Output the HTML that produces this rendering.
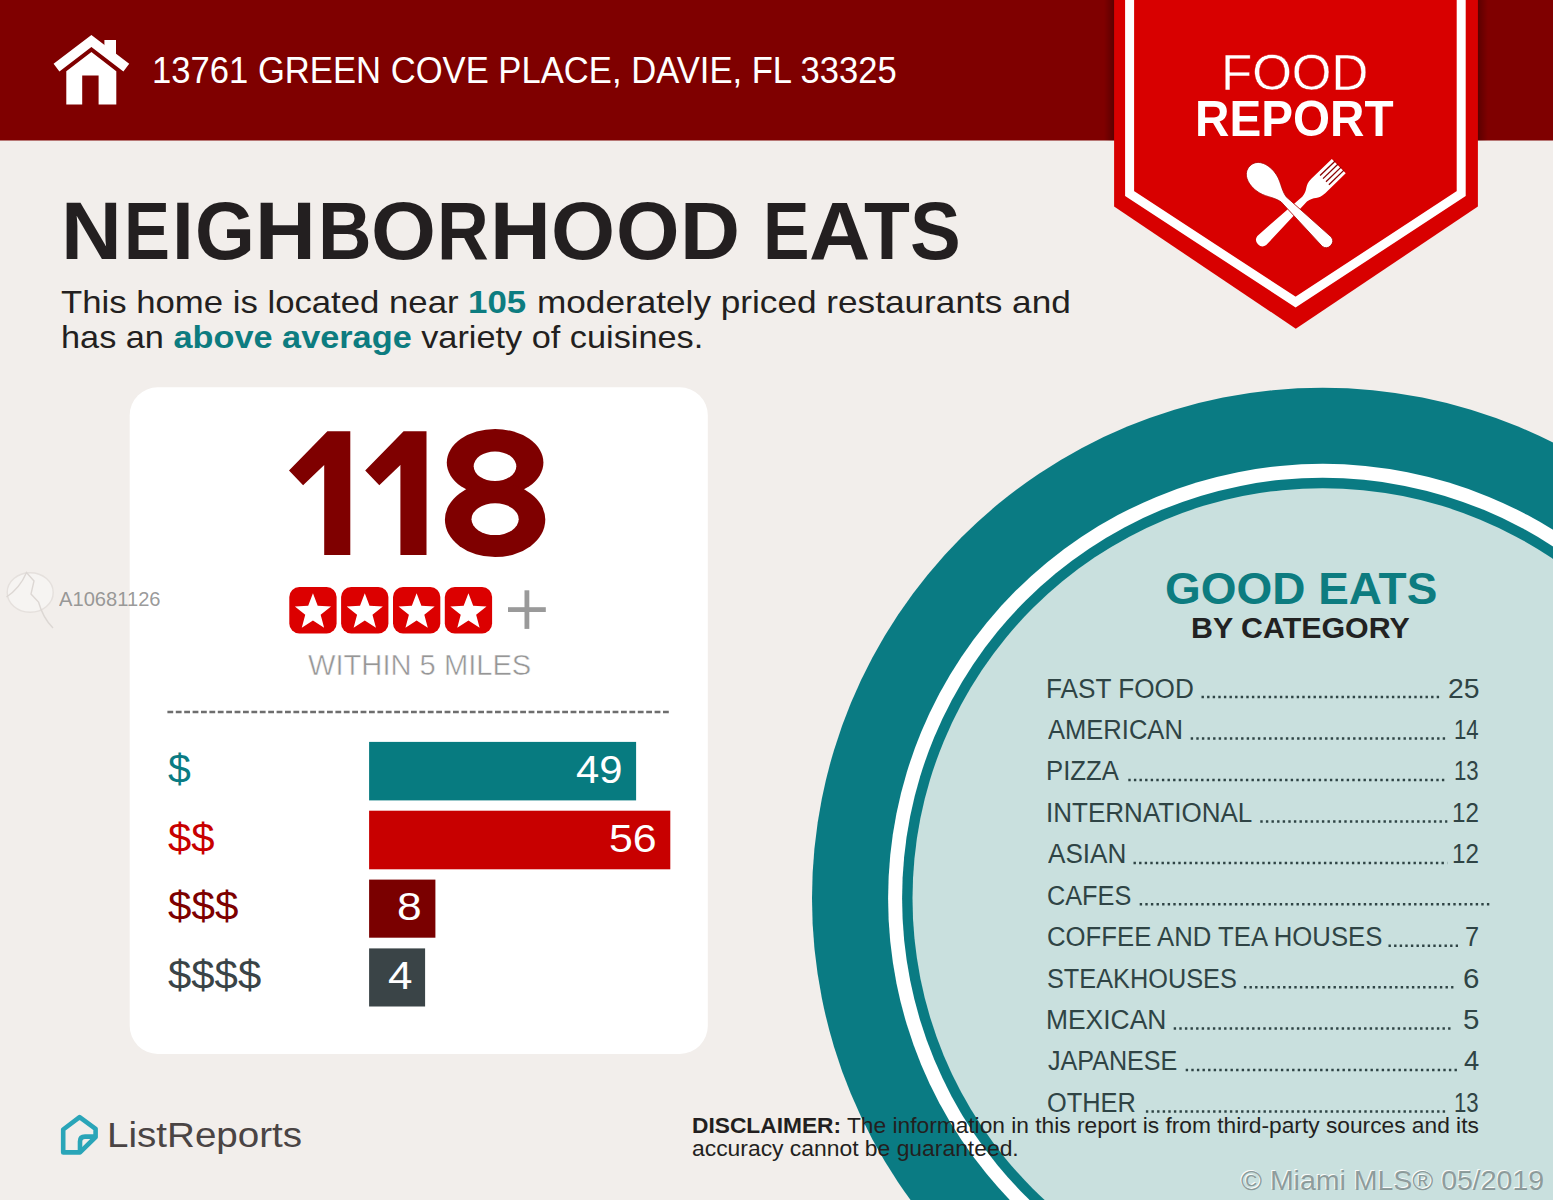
<!DOCTYPE html>
<html><head><meta charset="utf-8"><title>Neighborhood Eats</title>
<style>
html,body{margin:0;padding:0}
body{width:1553px;height:1200px;overflow:hidden;background:#f2eeeb;font-family:"Liberation Sans",sans-serif;position:relative}
#bg{position:absolute;left:0;top:0}
.t{position:absolute;white-space:nowrap;line-height:1;transform-origin:0 0;margin:0}
.t b{font-weight:700}
.g{position:absolute;left:0;top:0;width:1553px;height:0;margin:0;padding:0;font-size:0;line-height:0;white-space:nowrap;font-weight:400}
.s{display:inline-block;vertical-align:top;width:0;height:0;position:relative;line-height:1;white-space:nowrap;transform-origin:0 0}
#p2 b{color:#0d7c80}
</style></head><body>
<svg id="bg" width="1553" height="1200" viewBox="0 0 1553 1200">
<rect width="1553" height="1200" fill="#f2eeeb"/>
<circle cx="1322.7" cy="898.4" r="510.7" fill="#0a7b83"/>
<circle cx="1322.7" cy="898.4" r="434.6" fill="#ffffff"/>
<circle cx="1322.7" cy="898.4" r="420.6" fill="#0a7b83"/>
<circle cx="1322.7" cy="898.4" r="410.2" fill="#c9e0de"/>
<rect x="0" y="0" width="1553" height="140.5" fill="#7f0000"/>
<defs><linearGradient id="shl" x1="0" x2="1" y1="0" y2="0"><stop offset="0" stop-color="#000" stop-opacity="0"/><stop offset="1" stop-color="#000" stop-opacity="0.28"/></linearGradient><linearGradient id="shr" x1="0" x2="1" y1="0" y2="0"><stop offset="0" stop-color="#000" stop-opacity="0.28"/><stop offset="1" stop-color="#000" stop-opacity="0"/></linearGradient></defs>
<rect x="1104" y="0" width="10.2" height="140.5" fill="url(#shl)"/>
<rect x="1477.8" y="0" width="10.2" height="140.5" fill="url(#shr)"/>
<polygon points="1114.1,0 1477.9,0 1477.9,206.6 1295.8,328.7 1114.1,206.6" fill="#d80000"/>
<polyline points="1129.6,-6 1129.6,193.6 1295.6,302.1 1461.2,193.6 1461.2,-6" fill="none" stroke="#fff" stroke-width="9" stroke-linejoin="miter"/>
<g transform="translate(1294,211.2)">
<g transform="rotate(46) translate(-1.3,0)" fill="#fff">
<path d="M-10,-63.5 L10,-63.5 L10,-35 C10,-25 4,-25 3.4,-16 L6.4,43.5 A6.5,6.5 0 0 1 -6.4,43.5 L-3.4,-16 C-4,-25 -10,-25 -10,-35 Z"/>
<rect x="-6.8500000000000005" y="-64.5" width="1.3" height="21" fill="#8a0000"/>
<rect x="-2.65" y="-64.5" width="1.3" height="21" fill="#8a0000"/>
<rect x="1.65" y="-64.5" width="1.3" height="21" fill="#8a0000"/>
<rect x="5.85" y="-64.5" width="1.3" height="21" fill="#8a0000"/>
</g>
<g transform="rotate(-45.5) translate(1.2,4.3)" fill="#fff" stroke="#b00000" stroke-width="0.8">
<path d="M0,-67.5 C10,-67.5 14.3,-57 13.1,-46 C12,-35 5.5,-30 3.6,-20 L6.5,40.5 A6.6,6.6 0 0 1 -6.5,40.5 L-3.6,-20 C-5.5,-30 -12,-35 -13.1,-46 C-14.3,-57 -10,-67.5 0,-67.5 Z"/>
</g>
</g>
<g fill="#fff">
<polyline points="56.5,67.6 91.4,41 126.3,67.6" fill="none" stroke="#fff" stroke-width="9.6" stroke-linejoin="miter" stroke-linecap="butt"/>
<polygon points="104.4,39.9 116,39.9 116,60 104.4,51"/>
<path d="M66.3,104.4 L66.3,71.2 L91.4,52 L116.3,71.2 L116.3,104.4 L98.6,104.4 L98.6,75.6 L82.2,75.6 L82.2,104.4 Z"/>
</g>
<rect x="129.7" y="387.3" width="578.1" height="666.6" rx="28" ry="28" fill="#ffffff"/>
<polygon points="327.4,431.2 350.3,431.2 350.3,554.9 324.2,554.9 324.2,465.1 303.1,485.3 289.0,470.5" fill="#7f0000"/>
<polygon points="403.6,431.2 426.5,431.2 426.5,554.9 400.4,554.9 400.4,465.1 379.3,485.3 365.2,470.5" fill="#7f0000"/>
<ellipse cx="495.1" cy="462.6" rx="48.3" ry="33.6" fill="#7f0000"/>
<ellipse cx="495.1" cy="519.8" rx="50.2" ry="37.3" fill="#7f0000"/>
<ellipse cx="495.0" cy="466.3" rx="21.3" ry="14.8" fill="#fff"/>
<ellipse cx="495.1" cy="519.2" rx="23.6" ry="15.9" fill="#fff"/>
<rect x="289.3" y="587" width="47.3" height="46.4" rx="10" ry="10" fill="#dc0000"/>
<polygon points="312.95,593.30 317.71,605.75 331.02,606.43 320.65,614.80 324.12,627.67 312.95,620.40 301.78,627.67 305.25,614.80 294.88,606.43 308.19,605.75" fill="#fff"/>
<rect x="341.1" y="587" width="47.3" height="46.4" rx="10" ry="10" fill="#dc0000"/>
<polygon points="364.78,593.30 369.54,605.75 382.85,606.43 372.48,614.80 375.95,627.67 364.78,620.40 353.61,627.67 357.08,614.80 346.71,606.43 360.02,605.75" fill="#fff"/>
<rect x="393.0" y="587" width="47.3" height="46.4" rx="10" ry="10" fill="#dc0000"/>
<polygon points="416.61,593.30 421.37,605.75 434.68,606.43 424.31,614.80 427.78,627.67 416.61,620.40 405.44,627.67 408.91,614.80 398.54,606.43 411.85,605.75" fill="#fff"/>
<rect x="444.8" y="587" width="47.3" height="46.4" rx="10" ry="10" fill="#dc0000"/>
<polygon points="468.44,593.30 473.20,605.75 486.51,606.43 476.14,614.80 479.61,627.67 468.44,620.40 457.27,627.67 460.74,614.80 450.37,606.43 463.68,605.75" fill="#fff"/>
<rect x="508" y="607.2" width="37.8" height="4.8" fill="#9a9a9a"/>
<rect x="524.5" y="590.3" width="4.8" height="38.6" fill="#9a9a9a"/>
<line x1="167.4" y1="712" x2="670.6" y2="712" stroke="#6e6e6e" stroke-width="2.4" stroke-dasharray="5.8 2.6"/>
<rect x="369.1" y="741.9" width="267" height="58.5" fill="#077b80"/>
<rect x="369.1" y="810.7" width="301.2" height="58.6" fill="#c80000"/>
<rect x="369.1" y="879.6" width="66.3" height="58.1" fill="#7a0000"/>
<rect x="369.1" y="948.4" width="56" height="58.1" fill="#3a4447"/>
<line x1="1201.5" y1="697.1" x2="1440.5" y2="697.1" stroke="#2f4445" stroke-width="2.5" stroke-dasharray="2.4 3.2"/>
<line x1="1190.7" y1="738.6" x2="1447.3" y2="738.6" stroke="#2f4445" stroke-width="2.5" stroke-dasharray="2.4 3.2"/>
<line x1="1128.3" y1="780.0" x2="1447.3" y2="780.0" stroke="#2f4445" stroke-width="2.5" stroke-dasharray="2.4 3.2"/>
<line x1="1260.3" y1="821.4" x2="1447.3" y2="821.4" stroke="#2f4445" stroke-width="2.5" stroke-dasharray="2.4 3.2"/>
<line x1="1133.5" y1="862.9" x2="1447.3" y2="862.9" stroke="#2f4445" stroke-width="2.5" stroke-dasharray="2.4 3.2"/>
<line x1="1139.7" y1="904.3" x2="1489.5" y2="904.3" stroke="#2f4445" stroke-width="2.5" stroke-dasharray="2.4 3.2"/>
<line x1="1388.5" y1="945.7" x2="1458.0" y2="945.7" stroke="#2f4445" stroke-width="2.5" stroke-dasharray="2.4 3.2"/>
<line x1="1243.9" y1="987.2" x2="1453.4" y2="987.2" stroke="#2f4445" stroke-width="2.5" stroke-dasharray="2.4 3.2"/>
<line x1="1173.7" y1="1028.6" x2="1453.4" y2="1028.6" stroke="#2f4445" stroke-width="2.5" stroke-dasharray="2.4 3.2"/>
<line x1="1185.7" y1="1070.0" x2="1457.0" y2="1070.0" stroke="#2f4445" stroke-width="2.5" stroke-dasharray="2.4 3.2"/>
<line x1="1145.9" y1="1111.5" x2="1447.0" y2="1111.5" stroke="#2f4445" stroke-width="2.5" stroke-dasharray="2.4 3.2"/>
<g fill="none" stroke="#2aa5b8" stroke-width="4.6" stroke-linejoin="round" stroke-linecap="round">
<path d="M79.6,1117.2 L63.2,1129.5 L63.2,1152.4 L80,1152.4 L95.6,1137 L95.6,1128.8 Z"/>
<path d="M80,1150 L80,1141.5 Q80,1136.6 85,1136.6 L94,1136.6"/>
</g>
<g opacity="0.6"><ellipse cx="30.2" cy="592.5" rx="23" ry="19.7" fill="#faf8f7" stroke="#ddd8d4" stroke-width="1.4"/><path d="M6.5,597 Q20,588 26.5,572.5 L34,581 L31,594 L38.5,602 Q43,618 53,628" fill="none" stroke="#cfc9c5" stroke-width="1.4"/></g>
</svg>
<div class="t" id="addr" style="left:152.38px;top:53.15px;font-size:36.8px;font-weight:400;color:#fff;transform:scaleX(0.9409);">13761 GREEN COVE PLACE, DAVIE, FL 33325</div>
<div class="t" id="food" style="left:1220.56px;top:47.85px;font-size:50.5px;font-weight:400;color:#fff;transform:scaleX(1.0100);-webkit-text-stroke:0.4px #d80000;">FOOD</div>
<div class="t" id="report" style="left:1194.87px;top:94.25px;font-size:50.5px;font-weight:700;color:#fff;transform:scaleX(0.9435);">REPORT</div>
<h1 class="g" id="title"><span class="s" style="left:61.19px;top:190.70px;font-size:80.8px;font-weight:700;color:#231f20;transform:scaleX(1.0417);">N</span><span class="s" style="left:123.74px;top:190.70px;font-size:80.8px;font-weight:700;color:#231f20;transform:scaleX(0.8522);">E</span><span class="s" style="left:171.87px;top:190.70px;font-size:80.8px;font-weight:700;color:#231f20;transform:scaleX(0.9667);">I</span><span class="s" style="left:194.94px;top:190.70px;font-size:80.8px;font-weight:700;color:#231f20;transform:scaleX(0.9527);">G</span><span class="s" style="left:255.29px;top:190.70px;font-size:80.8px;font-weight:700;color:#231f20;transform:scaleX(1.0417);">H</span><span class="s" style="left:317.61px;top:190.70px;font-size:80.8px;font-weight:700;color:#231f20;transform:scaleX(0.9180);">B</span><span class="s" style="left:371.00px;top:190.70px;font-size:80.8px;font-weight:700;color:#231f20;transform:scaleX(1.0333);">O</span><span class="s" style="left:436.67px;top:190.70px;font-size:80.8px;font-weight:700;color:#231f20;transform:scaleX(0.8863);">R</span><span class="s" style="left:490.49px;top:190.70px;font-size:80.8px;font-weight:700;color:#231f20;transform:scaleX(1.0417);">H</span><span class="s" style="left:551.34px;top:190.70px;font-size:80.8px;font-weight:700;color:#231f20;transform:scaleX(1.0193);">O</span><span class="s" style="left:615.77px;top:190.70px;font-size:80.8px;font-weight:700;color:#231f20;transform:scaleX(1.0105);">O</span><span class="s" style="left:679.86px;top:190.70px;font-size:80.8px;font-weight:700;color:#231f20;transform:scaleX(1.0280);">D</span> <span class="s" style="left:763.28px;top:190.70px;font-size:80.8px;font-weight:700;color:#231f20;transform:scaleX(0.8630);">E</span><span class="s" style="left:809.40px;top:190.70px;font-size:80.8px;font-weight:700;color:#231f20;transform:scaleX(1.0519);">A</span><span class="s" style="left:864.07px;top:190.70px;font-size:80.8px;font-weight:700;color:#231f20;transform:scaleX(0.9292);">T</span><span class="s" style="left:910.07px;top:190.70px;font-size:80.8px;font-weight:700;color:#231f20;transform:scaleX(0.9417);">S</span></h1>
<p class="g" id="p1"><span class="s" style="left:61.32px;top:286.31px;font-size:32px;font-weight:400;color:#231f20;transform:scaleX(1.0849);">This home is located near</span> <span class="s" style="left:468.42px;top:286.31px;font-size:32px;font-weight:700;color:#0d7c80;transform:scaleX(1.0902);">105</span> <span class="s" style="left:537.30px;top:286.31px;font-size:32px;font-weight:400;color:#231f20;transform:scaleX(1.0992);">moderately priced restaurants and</span></p>
<div class="t" id="p2" style="left:60.86px;top:320.81px;font-size:32px;font-weight:400;color:#231f20;transform:scaleX(1.0714);">has an <b>above average</b> variety of cuisines.</div>
<div class="t" id="within" style="left:307.70px;top:650.33px;font-size:29.5px;font-weight:400;color:#969696;transform:scaleX(0.9871);-webkit-text-stroke:0.5px #fff;">WITHIN 5 MILES</div>
<div class="t" id="d1" style="left:168.00px;top:748.79px;font-size:41px;font-weight:400;color:#0a7b83;transform:scaleX(1.0000);">$</div>
<div class="t" id="d2" style="left:168.00px;top:817.79px;font-size:41px;font-weight:400;color:#c80000;transform:scaleX(1.0222);">$$</div>
<div class="t" id="d3" style="left:168.00px;top:886.29px;font-size:41px;font-weight:400;color:#7d0000;transform:scaleX(1.0294);">$$$</div>
<div class="t" id="d4" style="left:168.00px;top:954.79px;font-size:41px;font-weight:400;color:#3a4447;transform:scaleX(1.0220);">$$$$</div>
<div class="t" id="n1" style="left:575.90px;top:750.53px;font-size:38px;font-weight:400;color:#fff;transform:scaleX(1.1000);">49</div>
<div class="t" id="n2" style="left:608.74px;top:819.53px;font-size:38px;font-weight:400;color:#fff;transform:scaleX(1.1282);">56</div>
<div class="t" id="n3" style="left:396.67px;top:887.83px;font-size:38px;font-weight:400;color:#fff;transform:scaleX(1.1667);">8</div>
<div class="t" id="n4" style="left:387.84px;top:956.53px;font-size:38px;font-weight:400;color:#fff;transform:scaleX(1.1579);">4</div>
<div class="t" id="ge" style="left:1164.97px;top:565.74px;font-size:45.2px;font-weight:700;color:#0d7c80;transform:scaleX(1.0170);">GOOD EATS</div>
<div class="t" id="bc" style="left:1191.29px;top:613.52px;font-size:28.8px;font-weight:700;color:#222;transform:scaleX(1.0541);">BY CATEGORY</div>
<div class="t" id="lr" style="left:107.19px;top:1117.37px;font-size:35px;font-weight:400;color:#4a4444;transform:scaleX(1.1023);">ListReports</div>
<div class="t" id="wm1" style="left:58.60px;top:590.44px;font-size:19.8px;font-weight:400;color:rgba(128,128,128,0.8);transform:scaleX(1.0182);">A10681126</div>
<div class="t" id="wm2" style="left:1241.40px;top:1166.26px;font-size:28.4px;font-weight:400;color:rgba(125,140,140,0.85);transform:scaleX(1.0030);text-shadow:-1px -1px 0 rgba(255,255,255,0.9);">© Miami MLS® 05/2019</div>
<div class="t" id="dis1" style="left:691.79px;top:1114.95px;font-size:22.5px;font-weight:400;color:#231f20;transform:scaleX(1.0106);"><b>DISCLAIMER:</b> The information in this report is from third-party sources and its</div>
<div class="t" id="dis2" style="left:691.78px;top:1137.75px;font-size:22.5px;font-weight:400;color:#231f20;transform:scaleX(1.0163);">accuracy cannot be guaranteed.</div>
<div class="t" id="l0" style="left:1045.66px;top:675.54px;font-size:27px;font-weight:400;color:#2f4445;transform:scaleX(0.9691);">FAST FOOD</div>
<div class="t" id="r0" style="left:1447.75px;top:675.54px;font-size:27px;font-weight:400;color:#2f4445;transform:scaleX(1.0500);">25</div>
<div class="t" id="l1" style="left:1047.60px;top:716.97px;font-size:27px;font-weight:400;color:#2f4445;transform:scaleX(0.9461);">AMERICAN</div>
<div class="t" id="r1" style="left:1454.36px;top:716.97px;font-size:27px;font-weight:400;color:#2f4445;transform:scaleX(0.8222);">14</div>
<div class="t" id="l2" style="left:1045.70px;top:758.40px;font-size:27px;font-weight:400;color:#2f4445;transform:scaleX(0.9514);">PIZZA</div>
<div class="t" id="r2" style="left:1454.36px;top:758.40px;font-size:27px;font-weight:400;color:#2f4445;transform:scaleX(0.8222);">13</div>
<div class="t" id="l3" style="left:1045.67px;top:799.83px;font-size:27px;font-weight:400;color:#2f4445;transform:scaleX(0.9640);">INTERNATIONAL</div>
<div class="t" id="r3" style="left:1452.21px;top:799.83px;font-size:27px;font-weight:400;color:#2f4445;transform:scaleX(0.8963);">12</div>
<div class="t" id="l4" style="left:1047.60px;top:841.26px;font-size:27px;font-weight:400;color:#2f4445;transform:scaleX(0.9671);">ASIAN</div>
<div class="t" id="r4" style="left:1452.21px;top:841.26px;font-size:27px;font-weight:400;color:#2f4445;transform:scaleX(0.8963);">12</div>
<div class="t" id="l5" style="left:1046.66px;top:882.69px;font-size:27px;font-weight:400;color:#2f4445;transform:scaleX(0.9364);">CAFES</div>
<div class="t" id="l6" style="left:1046.65px;top:924.12px;font-size:27px;font-weight:400;color:#2f4445;transform:scaleX(0.9526);">COFFEE AND TEA HOUSES</div>
<div class="t" id="r6" style="left:1465.06px;top:924.12px;font-size:27px;font-weight:400;color:#2f4445;transform:scaleX(0.9385);">7</div>
<div class="t" id="l7" style="left:1046.66px;top:965.55px;font-size:27px;font-weight:400;color:#2f4445;transform:scaleX(0.9370);">STEAKHOUSES</div>
<div class="t" id="r7" style="left:1462.91px;top:965.55px;font-size:27px;font-weight:400;color:#2f4445;transform:scaleX(1.0923);">6</div>
<div class="t" id="l8" style="left:1045.64px;top:1006.98px;font-size:27px;font-weight:400;color:#2f4445;transform:scaleX(0.9782);">MEXICAN</div>
<div class="t" id="r8" style="left:1462.91px;top:1006.98px;font-size:27px;font-weight:400;color:#2f4445;transform:scaleX(1.0923);">5</div>
<div class="t" id="l9" style="left:1047.60px;top:1048.41px;font-size:27px;font-weight:400;color:#2f4445;transform:scaleX(0.9304);">JAPANESE</div>
<div class="t" id="r9" style="left:1463.98px;top:1048.41px;font-size:27px;font-weight:400;color:#2f4445;transform:scaleX(1.0154);">4</div>
<div class="t" id="l10" style="left:1046.66px;top:1089.84px;font-size:27px;font-weight:400;color:#2f4445;transform:scaleX(0.9391);">OTHER</div>
<div class="t" id="r10" style="left:1454.36px;top:1089.84px;font-size:27px;font-weight:400;color:#2f4445;transform:scaleX(0.8222);">13</div>
</body></html>
